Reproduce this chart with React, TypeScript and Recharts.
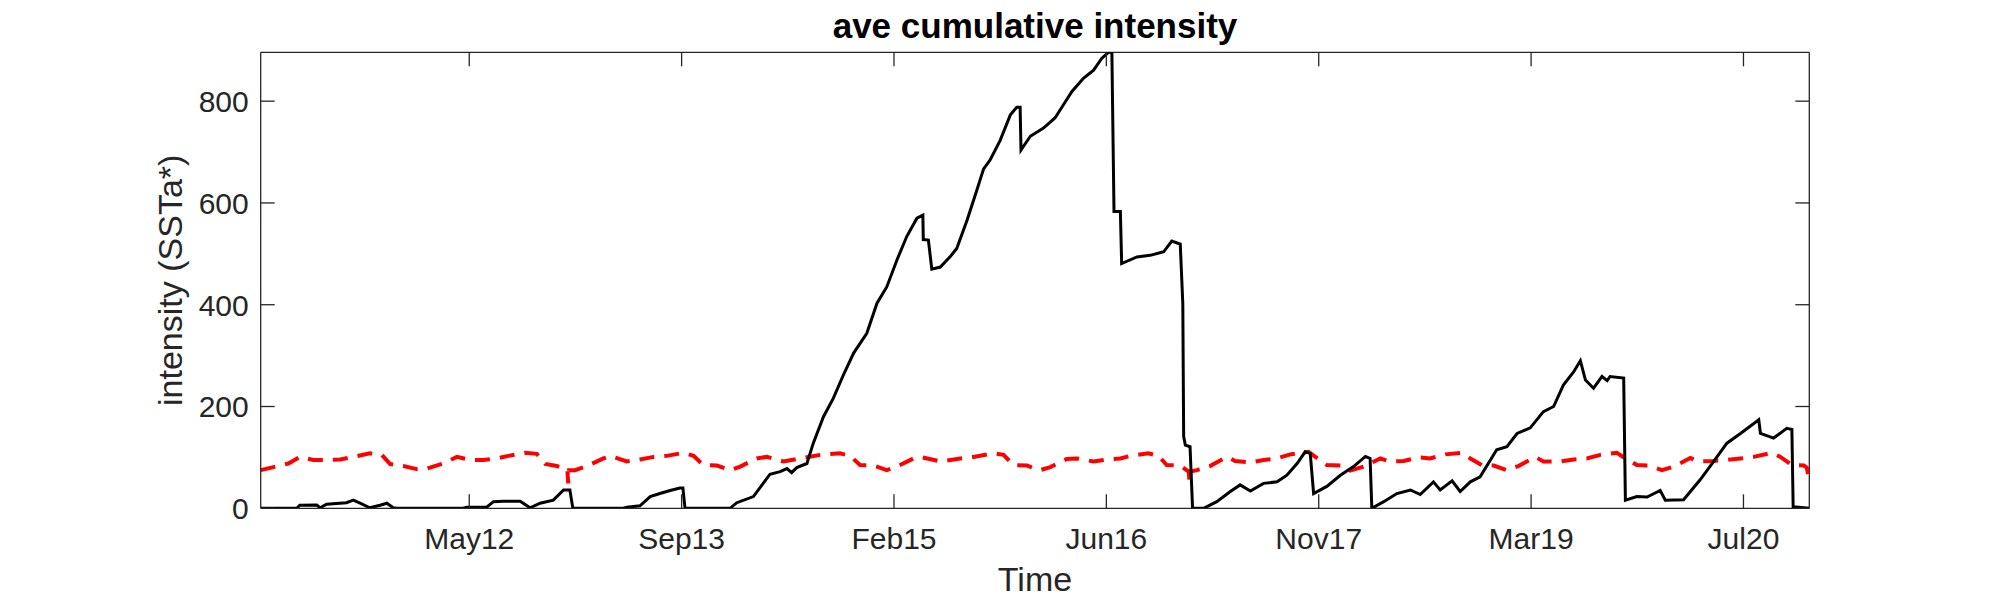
import React from 'react';
import { LineChart, Line, XAxis, YAxis, Label, ReferenceLine } from 'recharts';

// x is counted in days from 1 Jan 2011
const xTickDays = [496, 996, 1496, 1996, 2496, 2996, 3496];
const xTickNames = ['May12', 'Sep13', 'Feb15', 'Jun16', 'Nov17', 'Mar19', 'Jul20'];
const yTicks = [0, 200, 400, 600, 800];

// [day, intensity] of the cumulative intensity (black)
const cumulative: [number, number][] = [
  [5, 0], [90, 0], [97, 6], [137, 6.5], [145, 1], [160, 8], [207, 11], [223, 16], [239, 10], [262, 1],
  [286, 6], [302, 10], [317, 1], [325, 0], [482, 0], [490, 2], [537, 2], [553, 13], [576, 14], [616, 14],
  [639, 1], [663, 10], [694, 16], [718, 36], [733, 36], [736, 20], [740, 0], [859, 0], [867, 2], [898, 5],
  [922, 23], [945, 29], [969, 35], [992, 40], [999, 40], [1004, 0], [1110, 0], [1126, 11], [1165, 23], [1204, 67],
  [1228, 72], [1244, 78], [1255, 70], [1267, 80], [1291, 88], [1306, 128], [1330, 180], [1353, 216], [1377, 262], [1401, 305],
  [1432, 344], [1456, 403], [1479, 435], [1503, 488], [1526, 534], [1550, 570], [1564, 576], [1565, 528], [1577, 527], [1585, 470],
  [1605, 474], [1628, 494], [1644, 511], [1668, 566], [1691, 625], [1707, 667], [1722, 684], [1746, 723], [1770, 773], [1785, 788],
  [1793, 788], [1795, 704], [1817, 731], [1848, 747], [1875, 767], [1895, 793], [1915, 819], [1942, 845], [1966, 861], [1985, 884],
  [2001, 896], [2009, 896], [2014, 583], [2029, 583], [2032, 481], [2068, 494], [2099, 497], [2131, 504], [2150, 525], [2170, 519],
  [2176, 402], [2178, 141], [2182, 124], [2193, 121], [2199, 0], [2225, 0], [2256, 13], [2288, 33], [2311, 46], [2335, 34],
  [2366, 49], [2398, 52], [2421, 65], [2445, 88], [2464, 111], [2476, 108], [2484, 29], [2515, 43], [2547, 65], [2578, 82],
  [2606, 102], [2617, 98], [2621, 0], [2649, 13], [2680, 29], [2712, 36], [2735, 27], [2766, 52], [2782, 36], [2810, 54],
  [2829, 33], [2853, 52], [2876, 62], [2915, 115], [2939, 121], [2963, 147], [2994, 158], [3025, 190], [3049, 200], [3072, 242],
  [3096, 268], [3112, 290], [3124, 252], [3143, 236], [3163, 259], [3175, 251], [3182, 259], [3214, 256], [3218, 16], [3245, 23],
  [3269, 22], [3300, 35], [3312, 16], [3355, 17], [3394, 56], [3426, 92], [3457, 128], [3489, 147], [3532, 174], [3536, 147],
  [3567, 138], [3598, 157], [3610, 155], [3613, 3], [3651, 0],
];

// [day, intensity] of the reference level (red dashed)
const reference: [number, number][] = [
  [5, 75], [35, 81], [70, 88], [98, 101], [129, 95], [160, 95], [192, 96], [223, 101], [262, 108], [290, 105],
  [310, 87], [341, 83], [372, 77], [396, 78], [435, 88], [467, 101], [498, 95], [529, 95], [561, 98], [588, 103],
  [627, 109], [655, 107], [675, 87], [702, 83], [727, 76], [729, 49], [731, 75], [745, 75], [773, 83], [812, 98],
  [828, 103], [867, 92], [898, 96], [930, 101], [961, 103], [1000, 109], [1024, 103], [1047, 85], [1079, 84], [1110, 75],
  [1134, 82], [1173, 98], [1197, 101], [1236, 92], [1275, 98], [1322, 105], [1369, 108], [1393, 103], [1416, 85], [1448, 84],
  [1479, 75], [1503, 82], [1542, 98], [1558, 101], [1605, 92], [1652, 98], [1683, 101], [1730, 108], [1754, 105], [1777, 85],
  [1809, 84], [1840, 75], [1864, 81], [1903, 97], [1927, 98], [1966, 92], [1997, 96], [2029, 98], [2052, 103], [2095, 108],
  [2119, 103], [2138, 85], [2170, 84], [2190, 72], [2192, 49], [2194, 72], [2209, 75], [2240, 83], [2280, 101], [2299, 93],
  [2335, 90], [2366, 95], [2398, 98], [2429, 106], [2472, 111], [2488, 101], [2515, 85], [2547, 84], [2570, 74], [2602, 82],
  [2641, 98], [2664, 92], [2696, 93], [2731, 100], [2758, 98], [2794, 106], [2833, 109], [2853, 98], [2880, 85], [2908, 84],
  [2939, 75], [2966, 83], [3006, 101], [3025, 92], [3065, 92], [3096, 96], [3127, 98], [3159, 105], [3198, 109], [3218, 98],
  [3245, 85], [3273, 84], [3304, 75], [3332, 82], [3371, 99], [3390, 92], [3426, 93], [3457, 95], [3489, 98], [3520, 101],
  [3563, 109], [3583, 101], [3610, 85], [3638, 84], [3645, 80], [3651, 55],
];

const cumulativeData = cumulative.map(([day, v]) => ({ day, v }));
const referenceData = reference.map(([day, v]) => ({ day, v }));

const W = 2000;
const H = 600;
const box = { left: 260.7, top: 52.3, right: 1809.3, bottom: 508.3 };
const AX = '#262626';
const FONT = '"Liberation Sans", Arial, Helvetica, sans-serif';
const X_DOMAIN: [number, number] = [5, 3651];
const Y_DOMAIN: [number, number] = [0, 896];
const TICK_LEN = 14;

const lineStyle = { stroke: AX, strokeWidth: 1.3 };
const midX = (box.left + box.right) / 2;

// MATLAB-style ticks: pointing inward, mirrored on the opposite side of the box
const BottomTick = (props: any) => {
  const { x, y, payload } = props;
  return (
    <g>
      <line x1={x} x2={x} y1={y} y2={y - TICK_LEN} {...lineStyle} />
      <line x1={x} x2={x} y1={box.top} y2={box.top + TICK_LEN} {...lineStyle} />
      <text x={x} y={y + 40.7} textAnchor="middle" fontFamily={FONT} fontSize={30} fill={AX}>
        {xTickNames[xTickDays.indexOf(payload.value)]}
      </text>
    </g>
  );
};

const LeftTick = (props: any) => {
  const { x, y, payload } = props;
  return (
    <g>
      <line x1={x} x2={x + TICK_LEN} y1={y} y2={y} {...lineStyle} />
      <line x1={box.right} x2={box.right - TICK_LEN} y1={y} y2={y} {...lineStyle} />
      <text x={x - 12} y={y} dy="0.36em" textAnchor="end" fontFamily={FONT} fontSize={30} fill={AX}>
        {payload.value}
      </text>
    </g>
  );
};

const TitleText = () => (
  <text x={midX} y={37.5} textAnchor="middle" fontFamily={FONT} fontSize={35} fontWeight="bold" fill="#000">
    ave cumulative intensity
  </text>
);

const TimeText = () => (
  <text x={midX} y={591} textAnchor="middle" fontFamily={FONT} fontSize={34} fill={AX}>
    Time
  </text>
);

const YText = () => {
  const cy = (box.top + box.bottom) / 2;
  return (
    <text x={182} y={cy} transform={`rotate(-90 182 ${cy})`} textAnchor="middle" fontFamily={FONT} fontSize={34} fill={AX}>
      intensity (SSTa*)
    </text>
  );
};

export default function App() {
  return (
    <div style={{ position: 'absolute', left: 0, top: 0, width: W, height: H, background: '#fff' }}>
      <LineChart
        width={W}
        height={H}
        margin={{ top: box.top, right: W - box.right, bottom: H - box.bottom - 50, left: box.left - 80 }}
      >
        <XAxis
          dataKey="day"
          type="number"
          domain={X_DOMAIN}
          allowDataOverflow
          ticks={xTickDays}
          interval={0}
          height={50}
          tickSize={0}
          tickMargin={0}
          axisLine={lineStyle}
          tickLine={false}
          tick={BottomTick}
        >
          <Label content={TimeText} />
          <Label content={TitleText} />
        </XAxis>
        <YAxis
          type="number"
          domain={Y_DOMAIN}
          allowDataOverflow
          ticks={yTicks}
          interval={0}
          width={80}
          tickSize={0}
          tickMargin={0}
          axisLine={lineStyle}
          tickLine={false}
          tick={LeftTick}
        >
          <Label content={YText} />
        </YAxis>
        <ReferenceLine y={Y_DOMAIN[1]} stroke={AX} strokeWidth={1.3} ifOverflow="visible" />
        <ReferenceLine x={X_DOMAIN[1]} stroke={AX} strokeWidth={1.3} ifOverflow="visible" />
        <Line
          data={referenceData}
          dataKey="v"
          type="linear"
          stroke="#ff0000"
          strokeWidth={4}
          strokeDasharray="15 10"
          dot={false}
          activeDot={false}
          isAnimationActive={false}
        />
        <Line
          data={cumulativeData}
          dataKey="v"
          type="linear"
          stroke="#000"
          strokeWidth={3}
          dot={false}
          activeDot={false}
          isAnimationActive={false}
        />
      </LineChart>
    </div>
  );
}
